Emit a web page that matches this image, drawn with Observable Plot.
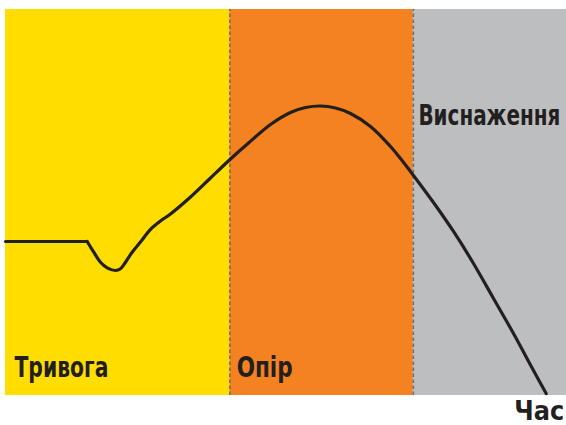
<!DOCTYPE html>
<html>
<head>
<meta charset="utf-8">
<script src="https://cdn.jsdelivr.net/npm/d3@7"></script>
<script src="https://cdn.jsdelivr.net/npm/@observablehq/plot@0.6"></script>
<style>
  html, body { margin: 0; padding: 0; background: #fff; }
</style>
</head>
<body>
<div id="chart"></div>
<script>
// Phases of the general adaptation syndrome
const phases = ["Тривога", "Опір", "Виснаження"];
const phaseStart = [0, 40, 72.7];
const phaseEnd = [40, 72.7, 100];

// Resistance level over time
const curveTime = [0, 14.56, 15.74, 16.93, 18.13, 19.61, 20.50, 21.39, 22.58, 24.06, 25.85, 27.63, 29.41, 32.98, 36.54, 40.11, 43.32, 47.24, 50.80, 53.48, 56.15, 58.82, 61.50, 65.06, 68.63, 70.41, 72.73, 76.29, 79.86, 83.42, 86.99, 90.55, 94.12, 96.38];
const curveLevel = [39.9, 39.9, 37.12, 34.53, 33.08, 32.38, 32.82, 34.53, 37.12, 39.77, 43.01, 45.21, 47.02, 51.42, 56.35, 61.27, 65.41, 70.21, 73.32, 74.61, 75.00, 74.48, 73.06, 69.69, 64.51, 61.40, 56.99, 50.00, 42.49, 34.20, 25.13, 16.06, 6.48, 0.52];
const stressOnset = 14.56; // end of the baseline

const axisLabel = "Час";

const bands = phases.map((p, i) => ({phase: p, x1: phaseStart[i], x2: phaseEnd[i]}));
const curve = curveTime.map((t, i) => ({t, v: curveLevel[i]}));
const boundaries = phaseStart.slice(1);

const font = "'DejaVu Sans Condensed', 'Liberation Sans Narrow', 'Roboto', sans-serif";

const labelPos = [
  {text: phases[0], t: 1.6, v: 4.9, w: 94},
  {text: phases[1], t: 41.2, v: 4.9, w: 56},
  {text: phases[2], t: 73.6, v: 70.2, w: 142}
];

const chart = Plot.plot({
  width: 566,
  height: 425,
  marginLeft: 5,
  marginRight: 0,
  marginTop: 9,
  marginBottom: 30,
  x: {domain: [0, 100], axis: null},
  y: {domain: [0, 100], axis: null},
  color: {domain: phases, range: ["#FFDD00", "#F58220", "#BCBEC0"]},
  style: {fontFamily: font, background: "#fff"},
  marks: [
    Plot.rect(bands, {x1: "x1", x2: "x2", y1: 0, y2: 100, fill: "phase"}),
    Plot.ruleX(boundaries, {y1: 0, y2: 100, stroke: "#6D6E71", strokeWidth: 1.6, strokeDasharray: "3.5,2.5"}),
    Plot.line(curve.filter(d => d.t <= stressOnset), {x: "t", y: "v", curve: "linear", stroke: "#231F20", strokeWidth: 3.2}),
    Plot.line(curve.filter(d => d.t >= stressOnset), {x: "t", y: "v", curve: "catmull-rom", stroke: "#231F20", strokeWidth: 3.2}),
    Plot.text(labelPos, {x: "t", y: "v", text: "text", textAnchor: "start", lineAnchor: "bottom", fontSize: 28, fontWeight: "bold", fill: "#231F20", className: "lbl"}),
    Plot.text([axisLabel], {x: 99.6, y: -6.4, text: d => d, textAnchor: "end", lineAnchor: "bottom", fontSize: 27, fontWeight: "bold", fill: "#231F20", className: "axlbl"})
  ]
});
document.getElementById("chart").appendChild(chart);

// Squeeze labels horizontally to the condensed lettering of the original
function squeeze(el, target) {
  const natural = el.getComputedTextLength();
  if (!natural) return;
  const k = Math.min(1, target / natural);
  const tr = el.getAttribute("transform") || "";
  el.setAttribute("transform", `${tr} scale(${k},1)`);
}
const widths = labelPos.map(d => d.w);
d3.select(chart).selectAll("g.lbl text").each(function (_, i) { squeeze(this, widths[i]); });
d3.select(chart).selectAll("g.axlbl text").each(function () { squeeze(this, 50); });
</script>
</body>
</html>
